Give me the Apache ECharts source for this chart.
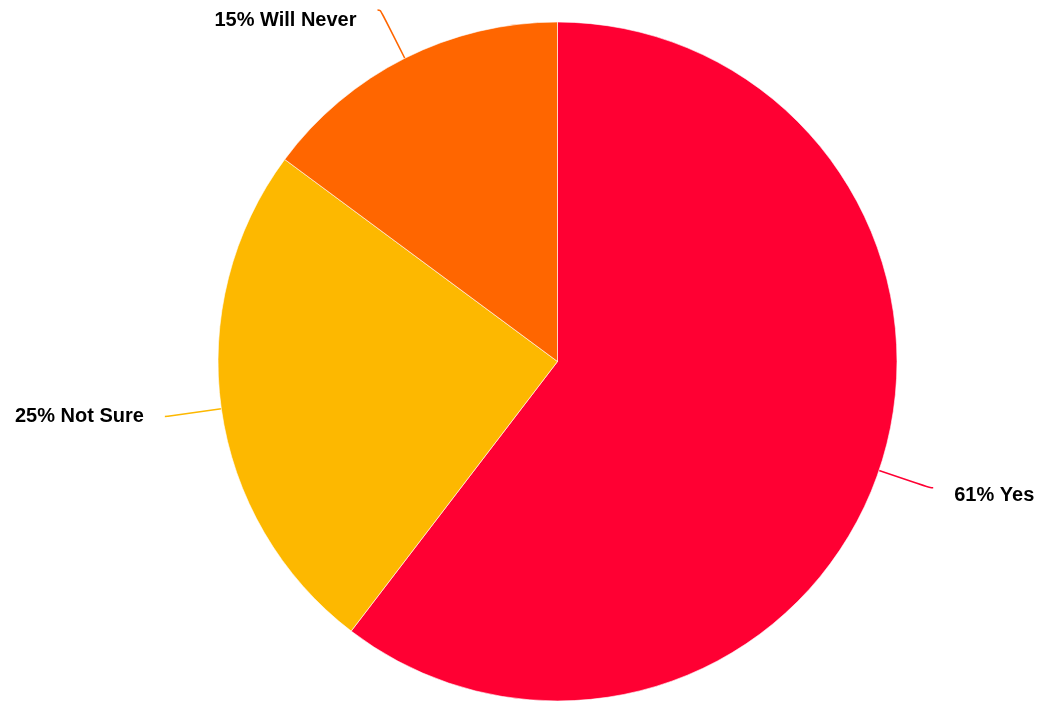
<!DOCTYPE html>
<html>
<head>
<meta charset="utf-8">
<script src="https://cdn.jsdelivr.net/npm/echarts@6/dist/echarts.min.js"></script>
<style>
  html, body { margin: 0; padding: 0; background: #fff; }
  #chart { width: 1040px; height: 701px; }
</style>
</head>
<body>
<div id="chart"></div>
<script>
// Survey answers, in percent
const answers = ['Yes', 'Not Sure', 'Will Never'];
const shares = [61, 25, 15];
const sliceColors = ['#FF0033', '#FDB800', '#FF6600'];

// Labels sit a little below the end of their leader lines
const labelDrop = [8, 0, 10];

const chart = echarts.init(document.getElementById('chart'));
chart.setOption({
  animation: false,
  series: [{
    type: 'pie',
    center: [557.5, 361.5],
    radius: 339.5,
    startAngle: 90,
    clockwise: true,
    avoidLabelOverlap: false,
    data: answers.map((name, i) => ({
      name,
      value: shares[i],
      itemStyle: { color: sliceColors[i] }
    })),
    itemStyle: { borderColor: '#ffffff', borderWidth: 0.6 },
    label: {
      formatter: '{c}% {b}',
      color: '#000',
      fontFamily: '"Liberation Sans", Arial, sans-serif',
      fontWeight: 'bold',
      fontSize: 20,
      overflow: 'none',
      distanceToLabelLine: 21
    },
    labelLine: {
      show: true,
      smooth: 0.4,
      length: 54,
      length2: 3,
      lineStyle: { width: 1.5 }
    },
    labelLayout: p => ({ dy: labelDrop[p.dataIndex] })
  }]
});
</script>
</body>
</html>
